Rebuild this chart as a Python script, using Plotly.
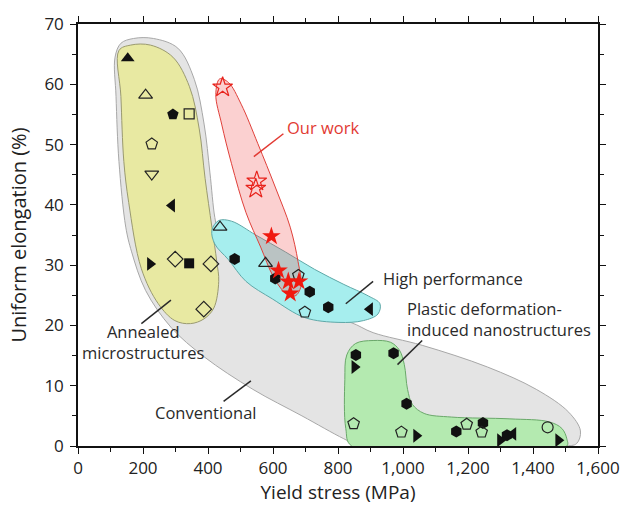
import plotly.graph_objects as go

# ---------------- data (Yield stress MPa, Uniform elongation %) ----------------
# Annealed microstructures
ann_tri_up_f = ([153], [64.3])
ann_tri_up_o = ([208], [58.2])
ann_pent_f = ([292], [55.0])
ann_sq_o = ([342], [55.1])
ann_pent_o = ([227], [50.1])
ann_tri_dn_o = ([227], [45.1])
ann_tri_l_f = ([289], [39.9])
ann_tri_r_f = ([222], [30.2])
ann_dia_o = ([299, 409, 387], [31.0, 30.2, 22.7])
ann_sq_f = ([342], [30.3])

# High performance
hp_tri_up_o = ([437, 577], [36.3, 30.3])
hp_hex_f = ([482, 607, 713, 770], [31.0, 27.8, 25.6, 23.0])
hp_pent_o = ([678, 698], [28.3, 22.2])
hp_tri_l_f = ([898], [22.7])

# Our work
our_star_o = ([445, 550, 547], [59.5, 43.9, 42.7])
our_star_f = ([595, 617, 647, 680, 653], [34.8, 29.1, 27.3, 27.3, 25.3])

# Plastic deformation-induced nanostructures
nano_hex_f = ([855, 971, 1011, 1164, 1246, 1320], [15.1, 15.4, 7.0, 2.4, 3.8, 1.8])
nano_tri_r_f = ([851, 1041, 1299, 1478], [13.1, 1.7, 0.95, 0.95])
nano_tri_l_f = ([1339], [2.0])
nano_pent_o = ([848, 995, 1196, 1242], [3.7, 2.3, 3.6, 2.3])
nano_circ_o = ([1445], [3.1])

# Region outlines
gray_x = [114, 132, 171, 232, 307, 358, 388, 406, 421, 433, 472, 577, 698, 839, 908, 1059, 1260, 1410, 1510,
          1546, 1534, 1495, 869, 818, 689, 538, 388, 286, 208, 165, 147, 126, 117, 114]
gray_y = [64.5, 66.8, 67.6, 67.6, 66.0, 60.8, 53.4, 45.3, 37.9, 35.2, 31.4, 26.5, 22.4, 20.5, 18.8, 16.7, 13.1, 9.4, 5.6,
          2.5, 0.4, 0.0, 0.0, 1.2, 5.0, 9.4, 14.8, 19.7, 25.8, 32.2, 36.3, 47.2, 58.0, 64.5]

yellow_x = [126, 162, 223, 292, 343, 373, 391, 412, 427, 433, 418, 388, 346, 298, 247, 195, 156, 141, 132, 126]
yellow_y = [65.6, 66.5, 66.5, 64.5, 59.6, 52.6, 44.4, 36.3, 30.6, 27.3, 22.9, 21.1, 20.3, 20.8, 23.6, 29.4, 40.4, 47.2, 58.0, 65.6]

cyan_x = [412, 433, 472, 547, 638, 728, 818, 893, 929, 923, 878, 803, 698, 598, 517, 463, 421, 412]
cyan_y = [35.8, 37.4, 37.3, 35.0, 32.2, 29.3, 26.8, 24.9, 23.6, 21.9, 20.8, 20.5, 21.3, 24.4, 27.3, 30.9, 33.5, 35.8]

green_x = [842, 824, 821, 827, 854, 908, 962, 989, 1004, 1014, 1029, 1065, 1149, 1329, 1450, 1489, 1504, 1504, 842]
green_y = [0, 2.9, 11.0, 15.1, 17.0, 17.5, 17.2, 15.9, 13.5, 9.4, 6.9, 5.4, 4.8, 4.5, 4.0, 2.9, 1.2, 0, 0]

red_x = [436, 463, 502, 553, 608, 653, 677, 686, 668, 638, 601, 562, 517, 472, 442, 424, 436]
red_y = [60.9, 60.3, 56.7, 50.2, 42.8, 36.3, 30.6, 26.5, 24.9, 25.4, 28.1, 33.0, 38.7, 46.9, 53.4, 58.3, 60.9]

# Labels and leader lines (x0, y0, x1, y1)
label_text = ["Our work", "High performance", "Plastic deformation-<br>induced nanostructures",
              "Annealed<br>microstructures", "Conventional"]
label_x = [638, 932, 1007, 201, 394]
label_y = [52.9, 27.8, 21.0, 17.2, 5.6]
label_anchor = ["left", "left", "left", "center", "center"]
label_color = ["#e23a33", "#2a2a2a", "#2a2a2a", "#2a2a2a", "#2a2a2a"]
leader = [(632, 51.8, 541, 48.0), (908, 27.3, 824, 23.6), (1059, 17.5, 983, 13.5),
          (195, 20.3, 286, 24.2), (448, 7.4, 532, 10.8)]

FONT = "Open Sans"
fig = go.Figure()


def region(x, y, fill, line):
    fig.add_trace(go.Scatter(x=x, y=y, mode="lines", fill="toself", fillcolor=fill,
                             line=dict(color=line, width=1, shape="spline", smoothing=1.0),
                             hoverinfo="skip", showlegend=False))


region(gray_x, gray_y, "#e4e4e4", "#a8a8a8")
region(yellow_x, yellow_y, "#e8e9a2", "#9a9a70")
region(cyan_x, cyan_y, "#a6eeee", "#5fa8a8")
region(green_x, green_y, "#b4eab0", "#6aa86a")
region(red_x, red_y, "rgba(240,85,85,0.28)", "#e0403a")


def pts(d, symbol, size=11, color="#111", lw=1.2):
    x, y = d
    if symbol.endswith("-open"):
        marker = dict(symbol=symbol, size=size, color=color, line=dict(color=color, width=lw))
    else:
        marker = dict(symbol=symbol, size=size, color=color, line=dict(width=0))
    fig.add_trace(go.Scatter(x=x, y=y, mode="markers", marker=marker, showlegend=False,
                             hoverinfo="skip"))


OPEN = "#222222"
pts(ann_tri_up_f, "triangle-up", 12)
pts(ann_tri_up_o, "triangle-up-open", 12, OPEN)
pts(ann_pent_f, "pentagon", 12)
pts(ann_sq_o, "square-open", 10, OPEN)
pts(ann_pent_o, "pentagon-open", 12, OPEN)
pts(ann_tri_dn_o, "triangle-down-open", 12, OPEN)
pts(ann_tri_l_f, "triangle-left", 12)
pts(ann_tri_r_f, "triangle-right", 12)
pts(ann_dia_o, "diamond-open", 12, OPEN)
pts(ann_sq_f, "square", 10)

pts(hp_tri_up_o, "triangle-up-open", 12, OPEN)
pts(hp_hex_f, "hexagon", 12)
pts(hp_pent_o, "pentagon-open", 12, OPEN)
pts(hp_tri_l_f, "triangle-left", 12)

pts(nano_hex_f, "hexagon", 12)
pts(nano_tri_r_f, "triangle-right", 12)
pts(nano_tri_l_f, "triangle-left", 12)
pts(nano_pent_o, "pentagon-open", 12, OPEN)
pts(nano_circ_o, "circle-open", 11, OPEN)

pts(our_star_o, "star-open", 15, "#e8231c", 1.2)
pts(our_star_f, "star", 14, "#f0190f")

for (x0, y0, x1, y1), col in zip(leader, label_color):
    fig.add_shape(type="line", x0=x0, y0=y0, x1=x1, y1=y1, xref="x", yref="y",
                  line=dict(color=col, width=1.5))

for t, x, y, a, c in zip(label_text, label_x, label_y, label_anchor, label_color):
    fig.add_annotation(text=t, x=x, y=y, xref="x", yref="y", showarrow=False,
                       xanchor=a, yanchor="middle", align=a,
                       font=dict(family=FONT, size=16.5, color=c))

axis_common = dict(showgrid=False, zeroline=False, showline=True, linecolor="#111", linewidth=1.5,
                   mirror="ticks", ticks="outside", ticklen=6, tickwidth=1.3, tickcolor="#111",
                   tickfont=dict(family=FONT, size=17, color="#222"))

fig.update_xaxes(range=[0, 1600], tick0=0, dtick=200, tickformat=",",
                 minor=dict(dtick=100, ticks="outside", ticklen=4, tickcolor="#111"),
                 title=dict(text="Yield stress (MPa)", font=dict(family=FONT, size=19, color="#222"),
                            standoff=4),
                 **axis_common)
fig.update_yaxes(range=[0, 70], tick0=0, dtick=10, ticklabelstandoff=3,
                 minor=dict(dtick=5, ticks="outside", ticklen=4, tickcolor="#111"),
                 title=dict(text="Uniform elongation (%)", font=dict(family=FONT, size=20, color="#222"),
                            standoff=12),
                 **axis_common)

fig.update_layout(width=632, height=508, margin=dict(l=78, r=22, t=18, b=60),
                  paper_bgcolor="white", plot_bgcolor="white", showlegend=False)

fig.write_html("out.html")
